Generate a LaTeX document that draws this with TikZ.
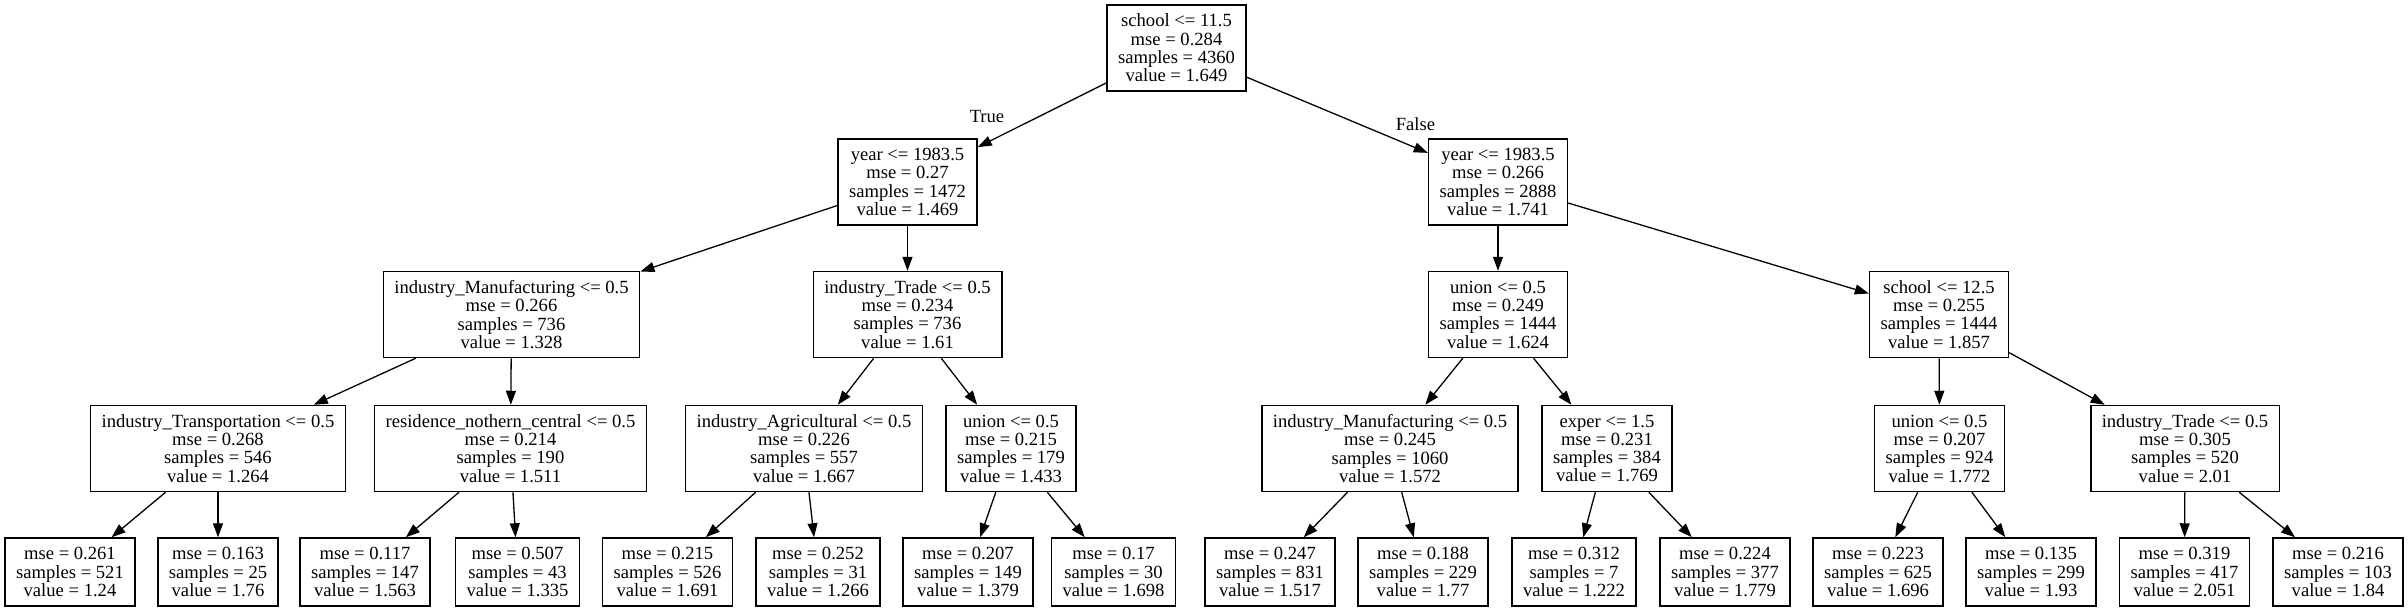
\documentclass[tikz,border=0pt]{standalone}
\usepackage{fontspec}
\setmainfont{Liberation Serif}
\usetikzlibrary{arrows.meta}
\tikzset{
  split/.style={draw, line width=1.5pt, align=center, inner xsep=11pt,
    inner ysep=0pt, minimum height=86pt, font=\fontsize{18.6}{18.3}\selectfont},
  leaf/.style={split, minimum height=68pt},
  edge/.style={line width=1.3pt, -{Triangle[length=14pt,width=10pt]}},
  elabel/.style={inner sep=0pt, font=\fontsize{18.6}{18.3}\selectfont}
}

\begin{document}
\begin{tikzpicture}[x=1pt,y=-1pt]

    \useasboundingbox (0,0) rectangle (2408,611);

    %% root
    \node[split] (root) at (1176.5,48) {school <= 11.5\\mse = 0.284\\samples = 4360\\value = 1.649};

    %%%%%%%%%%%%%%%%
    %% level 1
    \node[split] (yearT) at (907.5,182) {year <= 1983.5\\mse = 0.27\\samples = 1472\\value = 1.469};
    \node[split] (yearF) at (1498,182) {year <= 1983.5\\mse = 0.266\\samples = 2888\\value = 1.741};

    %%%%%%%%%%%%%%%%
    %% level 2
    \node[split] (manuA) at (511.5,314.5) {industry\_Manufacturing <= 0.5\\mse = 0.266\\samples = 736\\value = 1.328};
    \node[split] (tradeA) at (907.5,314.5) {industry\_Trade <= 0.5\\mse = 0.234\\samples = 736\\value = 1.61};
    \node[split] (unionA) at (1498,314.5) {union <= 0.5\\mse = 0.249\\samples = 1444\\value = 1.624};
    \node[split] (schoolB) at (1939,314.5) {school <= 12.5\\mse = 0.255\\samples = 1444\\value = 1.857};

    %%%%%%%%%%%%%%%%
    %% level 3
    \node[split] (transp) at (218,448.5) {industry\_Transportation <= 0.5\\mse = 0.268\\samples = 546\\value = 1.264};
    \node[split] (resid) at (510.5,448.5) {residence\_nothern\_central <= 0.5\\mse = 0.214\\samples = 190\\value = 1.511};
    \node[split] (agri) at (804,448.5) {industry\_Agricultural <= 0.5\\mse = 0.226\\samples = 557\\value = 1.667};
    \node[split] (unionB) at (1011,448.5) {union <= 0.5\\mse = 0.215\\samples = 179\\value = 1.433};
    \node[split] (manuB) at (1390,448.5) {industry\_Manufacturing <= 0.5\\mse = 0.245\\samples = 1060\\value = 1.572};
    \node[split] (exper) at (1607,448.5) {exper <= 1.5\\mse = 0.231\\samples = 384\\value = 1.769};
    \node[split] (unionC) at (1939.5,448.5) {union <= 0.5\\mse = 0.207\\samples = 924\\value = 1.772};
    \node[split] (tradeB) at (2185,448.5) {industry\_Trade <= 0.5\\mse = 0.305\\samples = 520\\value = 2.01};

    %%%%%%%%%%%%%%%%
    %% leaves
    \node[leaf] (l1) at (70,572) {mse = 0.261\\samples = 521\\value = 1.24};
    \node[leaf] (l2) at (218,572) {mse = 0.163\\samples = 25\\value = 1.76};
    \node[leaf] (l3) at (365,572) {mse = 0.117\\samples = 147\\value = 1.563};
    \node[leaf] (l4) at (517.5,572) {mse = 0.507\\samples = 43\\value = 1.335};
    \node[leaf] (l5) at (667.5,572) {mse = 0.215\\samples = 526\\value = 1.691};
    \node[leaf] (l6) at (818,572) {mse = 0.252\\samples = 31\\value = 1.266};
    \node[leaf] (l7) at (968,572) {mse = 0.207\\samples = 149\\value = 1.379};
    \node[leaf] (l8) at (1113.5,572) {mse = 0.17\\samples = 30\\value = 1.698};
    \node[leaf] (l9) at (1270,572) {mse = 0.247\\samples = 831\\value = 1.517};
    \node[leaf] (l10) at (1423,572) {mse = 0.188\\samples = 229\\value = 1.77};
    \node[leaf] (l11) at (1574,572) {mse = 0.312\\samples = 7\\value = 1.222};
    \node[leaf] (l12) at (1725,572) {mse = 0.224\\samples = 377\\value = 1.779};
    \node[leaf] (l13) at (1878,572) {mse = 0.223\\samples = 625\\value = 1.696};
    \node[leaf] (l14) at (2031,572) {mse = 0.135\\samples = 299\\value = 1.93};
    \node[leaf] (l15) at (2184.5,572) {mse = 0.319\\samples = 417\\value = 2.051};
    \node[leaf] (l16) at (2338,572) {mse = 0.216\\samples = 103\\value = 1.84};

    %%%%%%%%%%%%%%%%
    %% edges
    \draw[edge] (root) -- (yearT);
    \draw[edge] (root) -- (yearF);
    \node[elabel] (true) at (987,116) {True};
    \node[elabel] (false) at (1415.5,124) {False};

    \draw[edge] (yearT) -- (manuA);
    \draw[edge] (yearT) -- (tradeA);
    \draw[edge] (yearF) -- (unionA);
    \draw[edge] (yearF) -- (schoolB);

    \draw[edge] (manuA) -- (transp);
    \draw[edge] (manuA) -- (resid);
    \draw[edge] (tradeA) -- (agri);
    \draw[edge] (tradeA) -- (unionB);
    \draw[edge] (unionA) -- (manuB);
    \draw[edge] (unionA) -- (exper);
    \draw[edge] (schoolB) -- (unionC);
    \draw[edge] (schoolB) -- (tradeB);

    %% to the leaves
    \draw[edge] (transp) -- (l1);
    \draw[edge] (transp) -- (l2);
    \draw[edge] (resid) -- (l3);
    \draw[edge] (resid) -- (l4);
    \draw[edge] (agri) -- (l5);
    \draw[edge] (agri) -- (l6);
    \draw[edge] (unionB) -- (l7);
    \draw[edge] (unionB) -- (l8);
    \draw[edge] (manuB) -- (l9);
    \draw[edge] (manuB) -- (l10);
    \draw[edge] (exper) -- (l11);
    \draw[edge] (exper) -- (l12);
    \draw[edge] (unionC) -- (l13);
    \draw[edge] (unionC) -- (l14);
    \draw[edge] (tradeB) -- (l15);
    \draw[edge] (tradeB) -- (l16);

\end{tikzpicture}
\end{document}
